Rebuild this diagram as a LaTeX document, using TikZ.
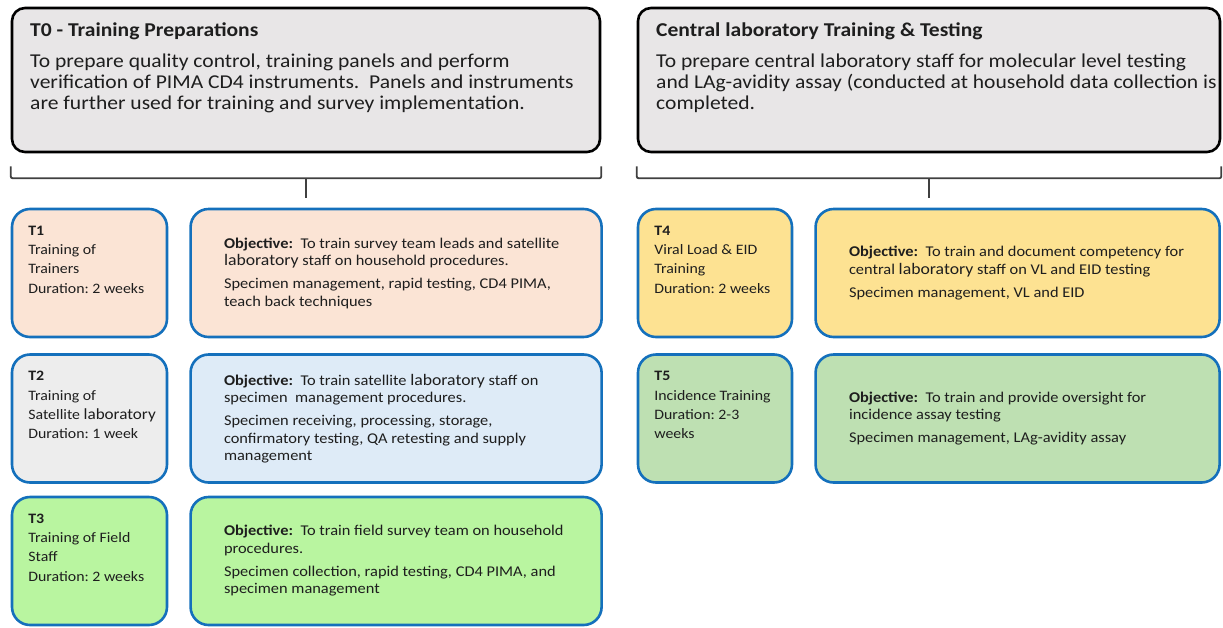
\documentclass[tikz,border=0pt]{standalone}
\usepackage{fontspec}
\setmainfont{Carlito}[FakeStretch=1.1]
\frenchspacing
\usepackage{tikz}
\usetikzlibrary{positioning}
\definecolor{hdrgray}{RGB}{232,230,231}
\definecolor{tblue}{RGB}{20,112,188}
\definecolor{peach}{RGB}{251,228,213}
\definecolor{softgray}{RGB}{237,237,237}
\definecolor{paleblue}{RGB}{222,235,247}
\definecolor{lime}{RGB}{185,245,160}
\definecolor{gold}{RGB}{253,226,146}
\definecolor{sage}{RGB}{190,224,178}
\definecolor{ink}{RGB}{30,30,30}
\newcommand{\labword}{\scalebox{1.08}{laboratory}}
\newcommand{\firstline}{\rule{0pt}{1em}}
\tikzset{x=1pt, y=-1pt,
    header/.style={rectangle,draw=black,line width=2.6pt,rounded corners=13pt,fill=hdrgray,minimum height=144pt},
    smallbox/.style={rectangle,draw=tblue,line width=2.6pt,rounded corners=18pt,minimum width=155pt,minimum height=128pt},
    bigbox/.style={rectangle,draw=tblue,line width=2.6pt,rounded corners=18pt,minimum width=411pt,minimum height=128pt},
    hdrtext/.style={anchor=north west,align=left,inner sep=0pt,text=ink,font=\fontsize{19.6}{21}\selectfont},
    smalltext/.style={anchor=north west,align=left,inner sep=0pt,text=ink,font=\fontsize{14.4}{19.3}\selectfont},
    bigtext/.style={anchor=west,align=left,inner sep=0pt,text=ink,font=\fontsize{14.9}{17.5}\selectfont},
    bracketline/.style={draw=ink!85,line width=1.8pt,rounded corners=2pt}}
\begin{document}
\begin{tikzpicture}
\useasboundingbox (0,0) rectangle (1223,627);

\node[header, minimum width=588pt] (t0)  at (306,80) {};
\node[header, minimum width=582pt] (lab) at (929,80) {};
\node[hdrtext] (t0text)  at ([shift={(19.3pt,-10pt)}]t0.north west)
    {\firstline\textbf{T0 - Training Preparations}\\[10pt]
     To prepare quality control, training panels and perform\\
     verification of PIMA CD4 instruments.\ \ Panels and instruments\\
     are further used for training and survey implementation.};
\node[hdrtext] (labtext) at ([shift={(19.3pt,-10pt)}]lab.north west)
    {\firstline\textbf{Central laboratory Training \& Testing}\\[10pt]
     To prepare central laboratory staff for molecular level testing\\
     and LAg-avidity assay (conducted at household data collection is\\
     completed.};

\draw[bracketline] ([yshift=-13pt]t0.south west) -- ([yshift=-25pt]t0.south west)
    -- ([yshift=-25pt]t0.south east) -- ([yshift=-13pt]t0.south east);
\draw[bracketline] ([yshift=-25pt]t0.south) -- ([yshift=-45pt]t0.south);
\draw[bracketline] ([yshift=-13pt]lab.south west) -- ([yshift=-25pt]lab.south west)
    -- ([yshift=-25pt]lab.south east) -- ([yshift=-13pt]lab.south east);
\draw[bracketline] ([yshift=-25pt]lab.south) -- ([yshift=-45pt]lab.south);

\node[smallbox, fill=peach]    (t1) at (89.5,273)   {};
\node[bigbox, fill=peach]      (o1) [right=21pt of t1] {};
\node[smallbox, fill=softgray] (t2) at (89.5,418.5) {};
\node[bigbox, fill=paleblue]   (o2) [right=21pt of t2] {};
\node[smallbox, fill=lime]     (t3) at (89.5,561)   {};
\node[bigbox, fill=lime]       (o3) [right=21pt of t3] {};
\node[smallbox, fill=gold, minimum width=154pt] (t4) at (715,273)   {};
\node[bigbox, fill=gold, minimum width=404pt]   (o4) [right=21pt of t4] {};
\node[smallbox, fill=sage, minimum width=154pt] (t5) at (715,418.5) {};
\node[bigbox, fill=sage, minimum width=404pt]   (o5) [right=21pt of t5] {};

\node[smalltext] (t1text) at ([shift={(17.5pt,-12.9pt)}]t1.north west)
    {\firstline\textbf{T1}\\Training of\\Trainers\\Duration: 2 weeks};
\node[smalltext] (t2text) at ([shift={(17.5pt,-12.9pt)}]t2.north west)
    {\firstline\textbf{T2}\\Training of\\Satellite \labword\\Duration: 1 week};
\node[smalltext] (t3text) at ([shift={(17.5pt,-12.9pt)}]t3.north west)
    {\firstline\textbf{T3}\\Training of Field\\Staff\\Duration: 2 weeks};
\node[smalltext] (t4text) at ([shift={(17.5pt,-12.9pt)}]t4.north west)
    {\firstline\textbf{T4}\\Viral Load \& EID\\Training\\Duration: 2 weeks};
\node[smalltext] (t5text) at ([shift={(17.5pt,-12.9pt)}]t5.north west)
    {\firstline\textbf{T5}\\Incidence Training\\Duration: 2-3\\weeks};

\node[bigtext] (o1text) at ([xshift=34.5pt]o1.west)
    {\textbf{Objective:}\ \ To train survey team leads and satellite\\
     \labword\ staff on household procedures.\\[5.5pt]
     Specimen management, rapid testing, CD4 PIMA,\\
     teach back techniques};
\node[bigtext] (o2text) at ([xshift=34.5pt]o2.west)
    {\textbf{Objective:}\ \ To train satellite \labword\ staff on\\
     specimen\ \ management procedures.\\[5.5pt]
     Specimen receiving, processing, storage,\\
     confirmatory testing, QA retesting and supply\\
     management};
\node[bigtext] (o3text) at ([xshift=34.5pt]o3.west)
    {\textbf{Objective:}\ \ To train field survey team on household\\
     procedures.\\[5.5pt]
     Specimen collection, rapid testing, CD4 PIMA, and\\
     specimen management};
\node[bigtext] (o4text) at ([xshift=34.5pt]o4.west)
    {\textbf{Objective:}\ \ To train and document competency for\\
     central \labword\ staff on VL and EID testing\\[5.5pt]
     Specimen management, VL and EID};
\node[bigtext] (o5text) at ([xshift=34.5pt]o5.west)
    {\textbf{Objective:}\ \ To train and provide oversight for\\
     incidence assay testing\\[5.5pt]
     Specimen management, LAg-avidity assay};
\end{tikzpicture}
\end{document}
